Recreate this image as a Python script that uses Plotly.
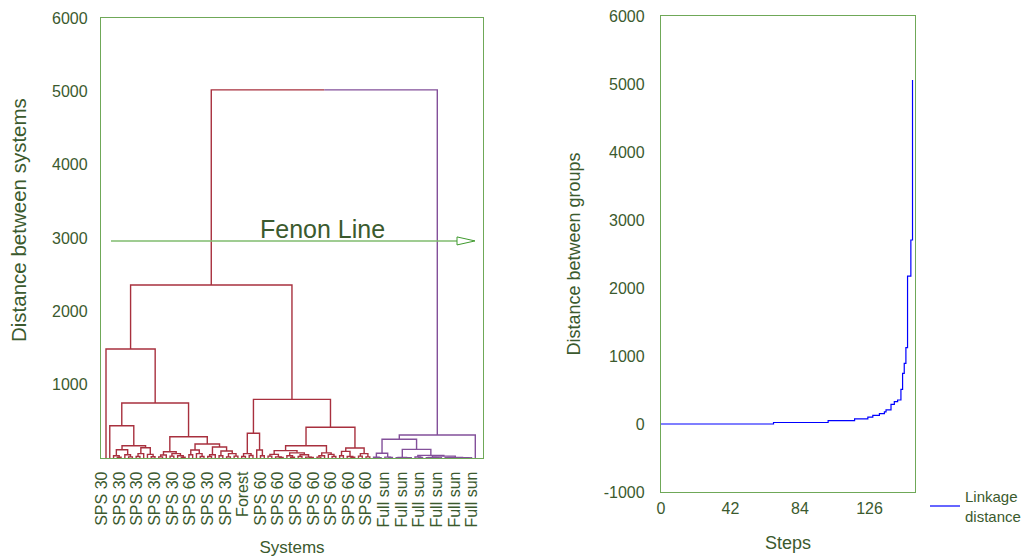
import plotly.graph_objects as go

# ---------------- data ----------------
# Dendrogram merges written as [height, left, right]; 0 = one object (leaf)
B2 = [167, [112, [30, 0, [10, 0, 0]], [45, 0, [15, 0, 0]]],
           [140, [60, [20, 0, 0], 0], [50, 0, [18, 0, 0]]]]
B = [440, 0, B2]
C1 = [86, [40, [15, 0, 0], 0], [60, [25, 0, 0], [30, 0, [10, 0, 0]]]]
C2 = [190, [110, [45, 0, 0], [60, 0, [20, 0, 0]]],
           [150, [45, [20, 0, 0], 0], [95, [30, 0, 0], [60, [15, 0, 0], [25, 0, 0]]]]]
C = [290, C1, C2]
A = [750, B, C]
G2 = [1486, 0, A]
D1 = [337, [60, [20, 0, 0], [35, 0, 0]], [110, 0, [30, 0, 0]]]
D2A1 = [100, [50, [25, 0, 0], [15, 0, [8, 0, 0]]],
             [70, [30, 0, [10, 0, 0]], [45, [20, 0, 0], [12, 0, [6, 0, 0]]]]]
D2A2 = [70, [30, [12, 0, 0], 0], [50, 0, [20, 0, 0]]]
D2B = [136, [90, [30, 0, 0], [20, 0, [10, 0, 0]]], [60, [25, 0, 0], [15, 0, 0]]]
D = [800, D1, [420, [168, D2A1, D2A2], D2B]]
RED_TREE = [2359, G2, D]

P1A = [64, [10, 0, [5, 0, 0]], [12, 0, [6, 0, 0]]]
P1B = [118, [8, [4, 0, 0], [5, 0, [3, 0, 0]]],
            [36, [14, 0, [7, 0, 0]],
                 [25, [6, [3, 0, 0], [4, 0, [2, 0, 0]]],
                      [8, [5, 0, [3, 0, 0]], [4, [2, 0, 0], [3, 0, [2, 0, 0]]]]]]]
PURPLE_TREE = [314, [255, P1A, P1B], 0]
ROOT_HEIGHT = 5020
FENON_LEVEL = 2960

SYSTEM_LABELS = ["SPS 30", "SPS 30", "SPS 30", "SPS 30", "SPS 30", "SPS 60",
                 "SPS 30", "SPS 30", "Forest", "SPS 60", "SPS 60", "SPS 60",
                 "SPS 60", "SPS 60", "SPS 60", "SPS 60", "Full sun", "Full sun",
                 "Full sun", "Full sun", "Full sun", "Full sun"]

# Linkage distance versus amalgamation step (step where the level starts)
STEP_START = [0, 68, 101, 117, 125, 128, 132, 135, 136, 139, 141, 143, 145,
              146, 147, 148, 149, 151, 152]
LINK_DIST = [0, 22, 50, 75, 100, 128, 153, 178, 208, 290, 328, 353, 510,
             745, 892, 1122, 2176, 2706, 5059]

LEFT_Y_TICKS = [1000, 2000, 3000, 4000, 5000, 6000]
RIGHT_Y_TICKS = [-1000, 0, 1000, 2000, 3000, 4000, 5000, 6000]
RIGHT_X_TICKS = [0, 42, 84, 126]

# ---------------- styling ----------------
OFF = 8                      # page body margin of the browser
W, H = 1032 - OFF, 557 - OFF
GREEN_FRAME = "#6fa858"
TEXT = "#3b5a2e"
RED = "#a8303e"
PURPLE = "#83509a"
FONT = "Liberation Sans, Arial, sans-serif"


def xf(p):
    return (p - OFF) / W


def yf(p):
    return 1 - (p - OFF) / H


def layout_tree(node, counter, links):
    if node == 0:
        x = counter[0]
        counter[0] += 1
        return x, 0.0
    h, a, b = node
    xa, ha = layout_tree(a, counter, links)
    xb, hb = layout_tree(b, counter, links)
    links.append((xa, ha, xb, hb, h))
    return (xa + xb) / 2.0, h


counter = [0]
red_links, purple_links = [], []
xr, hr = layout_tree(RED_TREE, counter, red_links)
xp, hp = layout_tree(PURPLE_TREE, counter, purple_links)
N = counter[0]


def link_xy(links):
    xs, ys = [], []
    for xa, ha, xb, hb, h in links:
        xs += [xa, xa, xb, xb, None]
        ys += [ha, h, h, hb, None]
    return xs, ys


LW = 1.4
fig = go.Figure()
rx, ry = link_xy(red_links)
px_, py_ = link_xy(purple_links)
fig.add_trace(go.Scatter(x=rx, y=ry, mode="lines", line=dict(color=RED, width=LW),
                         showlegend=False, hoverinfo="skip"))
fig.add_trace(go.Scatter(x=px_, y=py_, mode="lines", line=dict(color=PURPLE, width=LW),
                         showlegend=False, hoverinfo="skip"))
# root link
fig.add_trace(go.Scatter(x=[xr, xr, (xr + xp) / 2], y=[hr, ROOT_HEIGHT, ROOT_HEIGHT],
                         mode="lines", line=dict(color=RED, width=LW),
                         showlegend=False, hoverinfo="skip"))
fig.add_trace(go.Scatter(x=[(xr + xp) / 2, xp, xp], y=[ROOT_HEIGHT, ROOT_HEIGHT, hp],
                         mode="lines", line=dict(color=PURPLE, width=LW),
                         showlegend=False, hoverinfo="skip"))

# pixel geometry of the left panel (window pixels)
L0, L1, T0, B0 = 101, 483, 18, 458
leaf_first_px, leaf_last_px = 106, 475.3
s = (leaf_last_px - leaf_first_px) / (N - 1)
xmin = -(leaf_first_px - L0) / s
xmax = (N - 1) + (L1 - leaf_last_px) / s


def px2x(p):
    return xmin + (p - L0) / s


ypp = (B0 - T0) / 6000.0
# fenon line
fx0, fx_tip = px2x(111), px2x(475)
fx_base = px2x(457)
dy = 4 / ypp
fig.add_shape(type="line", xref="x", yref="y", x0=fx0, x1=fx_base, y0=FENON_LEVEL,
              y1=FENON_LEVEL, line=dict(color="#7fbb6e", width=1.5))
fig.add_shape(type="path", xref="x", yref="y",
              path=f"M {fx_base},{FENON_LEVEL + dy} L {fx_tip},{FENON_LEVEL} "
                   f"L {fx_base},{FENON_LEVEL - dy} Z",
              line=dict(color="#3f9a2e", width=1), fillcolor="white")
fig.add_annotation(x=px2x(322), y=FENON_LEVEL + 12 / ypp, xref="x", yref="y",
                   text="Fenon Line", showarrow=False,
                   font=dict(size=25, color=TEXT, family=FONT))

# left y-axis title (placed as in the original, above the axis centre)
fig.add_annotation(x=xf(18), y=yf(220), xref="paper", yref="paper",
                   text="Distance between systems", textangle=-90, showarrow=False,
                   xanchor="center", yanchor="middle",
                   font=dict(size=20.5, color=TEXT, family=FONT))

# tick labels of the dendrogram
nl = len(SYSTEM_LABELS)
t_first, t_last = px2x(102), px2x(472)
tickvals = [t_first + i * (t_last - t_first) / (nl - 1) for i in range(nl)]

# right panel
fig.add_trace(go.Scatter(x=STEP_START, y=LINK_DIST, mode="lines", line_shape="hv",
                         line=dict(color="#0000ff", width=1.2),
                         name="Linkage<br>distance", xaxis="x2", yaxis="y2",
                         showlegend=True))

axis_common = dict(showline=True, mirror=True, linecolor=GREEN_FRAME, linewidth=1.3,
                   showgrid=False, zeroline=False, ticks="", automargin=False,
                   ticklabeloverflow="allow",
                   tickfont=dict(size=16, color=TEXT, family=FONT))

fig.update_layout(
    width=W, height=H, margin=dict(l=0, r=0, t=0, b=0, autoexpand=False),
    paper_bgcolor="white", plot_bgcolor="white",
    font=dict(family=FONT, color=TEXT),
    xaxis=dict(domain=[xf(L0), xf(L1)], range=[xmin, xmax], tickvals=tickvals,
               ticktext=SYSTEM_LABELS, tickangle=-90, ticklabelstandoff=6,
               title=dict(text="Systems", font=dict(size=17, color=TEXT), standoff=14),
               **axis_common),
    yaxis=dict(domain=[yf(B0), yf(T0)], range=[0, 6000],
               tickvals=LEFT_Y_TICKS, ticklabelstandoff=9,
               **axis_common),
    xaxis2=dict(domain=[xf(661), xf(915)], range=[0, 153.5], anchor="y2",
                tickvals=RIGHT_X_TICKS, ticklabelstandoff=2,
                title=dict(text="Steps", font=dict(size=18, color=TEXT), standoff=20),
                **axis_common),
    yaxis2=dict(domain=[yf(492), yf(16)], range=[-1000, 6000], anchor="x2",
                tickvals=RIGHT_Y_TICKS, ticktext=[str(v) for v in RIGHT_Y_TICKS],
                ticklabelstandoff=12,
                title=dict(text="Distance between groups", font=dict(size=18, color=TEXT),
                           standoff=18),
                **axis_common),
    legend=dict(x=xf(925), y=yf(480), xanchor="left", yanchor="top",
                font=dict(size=15, color=TEXT, family=FONT), bgcolor="rgba(0,0,0,0)",
                itemwidth=30),
)

fig.write_html("out.html")
